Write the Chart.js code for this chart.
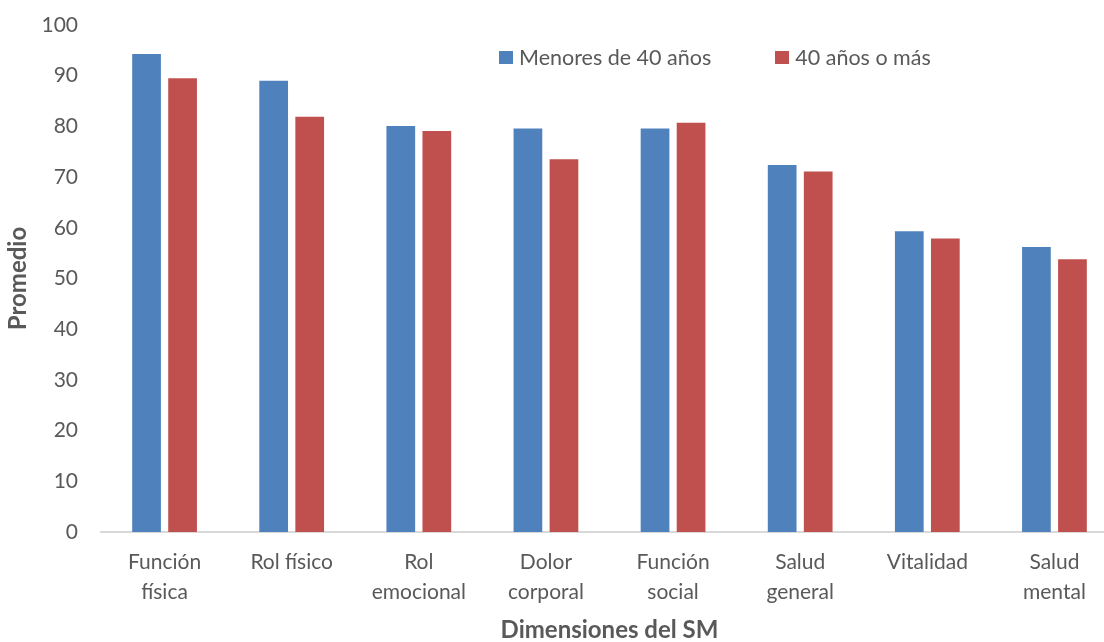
<!DOCTYPE html>
<html>
<head>
<meta charset="utf-8">
<script src="https://cdn.jsdelivr.net/npm/chart.js@4"></script>
<style>
    body { margin: 0; overflow: hidden; background: #fff; }
    #wrap { position: relative; width: 1120px; height: 642px; }
    #legend { position: absolute; left: 499px; top: 44px; font-family: Lato, sans-serif; font-size: 21.5px; color: #595959; display: flex; }
    #legend span.item { display: flex; align-items: center; }
    #legend span.box { width: 14px; height: 13px; margin-right: 6px; display: inline-block; }
</style>
</head>
<body>
<div id="wrap">
    <canvas id="chart" width="1120" height="642"></canvas>
    <div id="legend"></div>
</div>
<script>
// カテゴリ
const categories = [
    ['Función', 'física'],
    'Rol físico',
    ['Rol', 'emocional'],
    ['Dolor', 'corporal'],
    ['Función', 'social'],
    ['Salud', 'general'],
    'Vitalidad',
    ['Salud', 'mental']
];
// 系列
const seriesNames = ['Menores de 40 años', '40 años o más'];
const menores40 = [94.3, 89.0, 80.1, 79.6, 79.6, 72.4, 59.3, 56.2];
const mayores40 = [89.5, 81.9, 79.1, 73.5, 80.7, 71.1, 57.9, 53.8];
const colors = ['#4f81bd', '#c0504d'];
// 目盛り
const yTicks = [0, 10, 20, 30, 40, 50, 60, 70, 80, 90, 100];

const fontFamily = 'Lato, sans-serif';
const textColor = '#595959';

// 凡例をHTMLで作成
const legendEl = document.getElementById('legend');
seriesNames.forEach(function(name, i) {
    const item = document.createElement('span');
    item.className = 'item';
    item.style.marginRight = i === 0 ? '64px' : '0';
    item.innerHTML = '<span class="box" style="background:' + colors[i] + '"></span>' + name;
    legendEl.appendChild(item);
});

const ctx = document.getElementById('chart').getContext('2d');
new Chart(ctx, {
    type: 'bar',
    data: {
        labels: categories,
        datasets: [
            { label: seriesNames[0], data: menores40, backgroundColor: colors[0] },
            { label: seriesNames[1], data: mayores40, backgroundColor: colors[1] }
        ]
    },
    options: {
        responsive: false,
        animation: false,
        categoryPercentage: 0.567,
        barPercentage: 0.797,
        layout: { padding: { top: 25, right: 2, left: 0, bottom: 0 } },
        plugins: {
            legend: { display: false },
            tooltip: { enabled: false }
        },
        scales: {
            x: {
                grid: { display: false, drawTicks: false },
                border: { display: true, color: '#d9d9d9', width: 2 },
                ticks: {
                    color: textColor,
                    padding: 15,
                    maxRotation: 0,
                    autoSkip: false,
                    font: { family: fontFamily, size: 21, lineHeight: 1.43 }
                },
                title: {
                    display: true,
                    text: 'Dimensiones del SM',
                    color: textColor,
                    padding: { top: 0, bottom: 0 },
                    font: { family: fontFamily, size: 24, weight: 'bold', lineHeight: 1.0 }
                },
                afterFit: function(scale) { scale.height = 110; }
            },
            y: {
                min: 0,
                max: 100,
                afterBuildTicks: function(scale) {
                    scale.ticks = yTicks.map(function(v) { return { value: v }; });
                },
                grid: { display: false, drawTicks: false },
                border: { display: false },
                ticks: {
                    color: textColor,
                    padding: 23,
                    font: { family: fontFamily, size: 21 }
                },
                title: {
                    display: true,
                    text: 'Promedio',
                    color: textColor,
                    padding: { top: 4, bottom: 0 },
                    font: { family: fontFamily, size: 24, weight: 'bold' }
                },
                afterFit: function(scale) {
                    // 幅を固定し、上端の余白はlayout.paddingに任せる
                    scale.width = 101;
                    scale.paddingTop = 0;
                }
            }
        }
    }
});
</script>
</body>
</html>
